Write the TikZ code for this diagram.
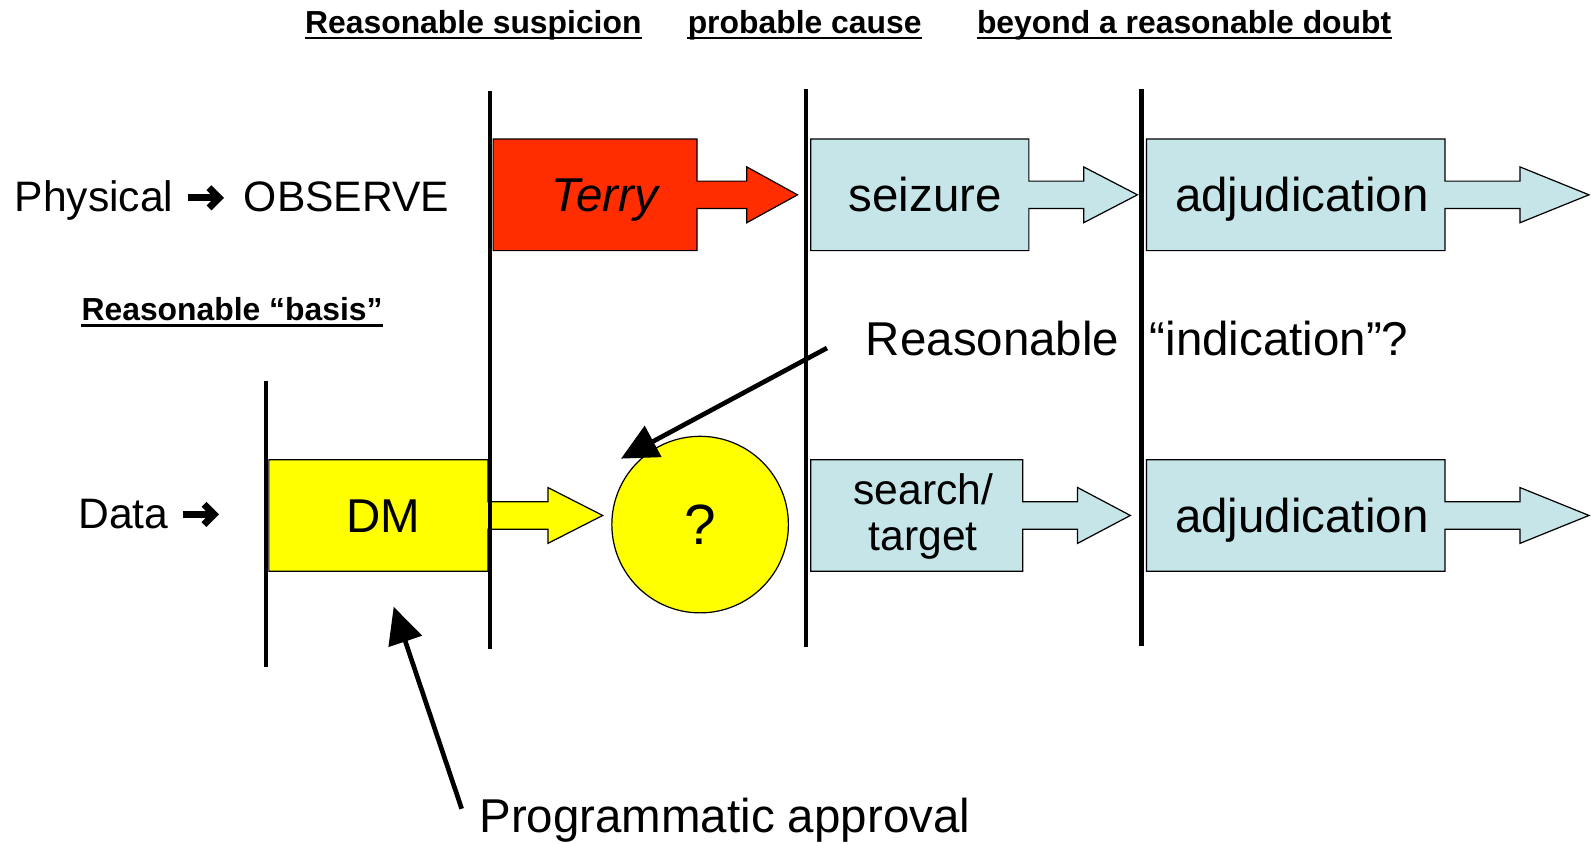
\documentclass[tikz,border=0pt]{standalone}
\usepackage{fontspec}
\setmainfont{Liberation Sans}
\usetikzlibrary{arrows.meta,calc}

\definecolor{stopred}{HTML}{FF2D00}
\definecolor{stepblue}{HTML}{C6E5E9}
\definecolor{dmyellow}{HTML}{FFFF00}

\tikzset{
  boxshape/.style={draw=none, minimum width=#1, minimum height=55pt, inner sep=0pt, outer sep=0pt},
  outline/.style={draw=black, line width=0.6pt, line join=miter},
  boxtext/.style={font=\fontsize{23.4}{27}\selectfont, inner sep=0pt, anchor=base},
  sidetext/.style={font=\fontsize{21}{25}\selectfont, inner sep=0pt, anchor=base west},
  heading/.style={font=\bfseries\fontsize{15.7}{18}\selectfont, inner sep=0pt, anchor=base},
  uline/.style={line width=1pt},
  divider/.style={line width=2pt},
  pointer/.style={line width=2.3pt, -{Triangle[length=18pt,width=17pt]}},
  heavy/.style={line width=3.4pt, line join=miter, miter limit=10},
}

% heavy right arrow of the row labels, centred at (#1,#2), running from x=#1 to about #1+36
\newcommand\heavyarrow[2]{%
  \draw[heavy] (#1,#2) -- (#1+29,#2);
  \draw[heavy] (#1+21,#2-10) -- (#1+31,#2) -- (#1+21,#2+10);}

% box with a block arrow leaving its east side (shaft and head lengths in px units)
\newcommand\flowshape[4]{%
  \draw[outline, fill=#2] (#1.north west) -- (#1.north east)
    -- ($(#1.east)+(0,-13.5)$) -- ++(#3,0) -- ++(0,-14) -- ++(#4,27.5)
    -- ++(-#4,27.5) -- ++(0,-14) -- ($(#1.east)+(0,13.5)$)
    -- (#1.south east) -- (#1.south west) -- cycle;}

\begin{document}
\begin{tikzpicture}[x=0.5pt,y=-0.5pt]
\useasboundingbox (0,0) rectangle (1568,831);

% standards of proof along the top
\node[heading] (rs) at (466.5,33) {Reasonable suspicion};
\node[heading] (pc) at (793,33) {probable cause};
\node[heading] (brd) at (1167,33) {beyond a reasonable doubt};
\node[heading, anchor=base west] (rb) at (80,316) {Reasonable “basis”};
\foreach \n in {rs,pc,brd,rb}
  \draw[uline] ([yshift=-2.4pt]\n.base west) -- ([yshift=-2.4pt]\n.base east);

% row labels
\node[sidetext] (phys) at (14,208) {Physical};
\heavyarrow{185}{195}
\node[sidetext] (obs) at (240,208) {OBSERVE};
\node[sidetext] (data) at (77,521) {Data};
\heavyarrow{180}{507}

% physical row
\node[boxshape=100.5pt] (terryBox) at (586.5,192) {};
\flowshape{terryBox}{stopred}{49}{50}
\node[boxtext, font=\itshape\fontsize{23.4}{27}\selectfont] (terry) at (596,208.5) {Terry};

\node[boxshape=107.5pt] (seizBox) at (906.5,192) {};
\flowshape{seizBox}{stepblue}{54}{53}
\node[boxtext] (seiz) at (912,208.5) {seizure};

\node[boxshape=147pt] (adjTopBox) at (1277,192) {};
\flowshape{adjTopBox}{stepblue}{74}{68}
\node[boxtext] (adjTop) at (1283,208.5) {adjudication};

% data row
\node[boxshape=108pt] (dmBox) at (373,508) {};
\flowshape{dmBox}{dmyellow}{59}{54}
\node[boxtext] (dm) at (378,524.5) {DM};

\node[circle, outline, fill=dmyellow, minimum size=87pt, inner sep=0pt,
      font=\fontsize{28}{30}\selectfont] (q) at (690,517) {?};

\node[boxshape=104.5pt] (searchBox) at (903.5,508) {};
\flowshape{searchBox}{stepblue}{54}{52}
\node[boxtext, anchor=center, align=center, font=\fontsize{21}{23}\selectfont] (search) at (910,509) {search/\\target};

\node[boxshape=147pt] (adjBotBox) at (1277,508) {};
\flowshape{adjBotBox}{stepblue}{74}{68}
\node[boxtext] (adjBot) at (1283,524.5) {adjudication};

% dividers
\draw[divider] (483,90) -- (483,640);
\draw[divider] (794,88) -- (794,638);
\draw[divider] (1125,88) -- (1125,637);
\draw[divider] (262,375) -- (262,657);

% annotations
\node[boxtext, anchor=base west] (ind) at (853,350) {Reasonable\hspace{15pt}“indication”?};
\coordinate (indTail) at (815,343);
\coordinate (indTip) at (612,452);
\draw[pointer] (indTail) -- (indTip);

\node[boxtext, anchor=base west] (prog) at (472,820) {Programmatic approval};
\coordinate (progTail) at (455,797);
\coordinate (progTip) at (388,598);
\draw[pointer] (progTail) -- (progTip);
\end{tikzpicture}
\end{document}
